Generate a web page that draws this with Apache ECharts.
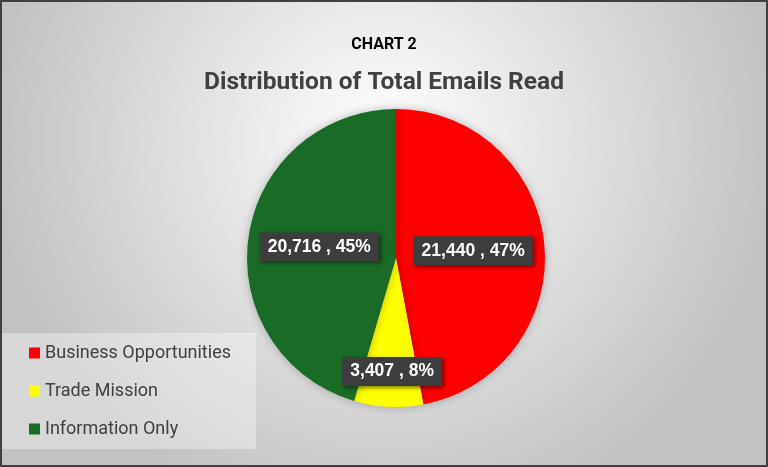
<!DOCTYPE html>
<html>
<head>
    <meta charset="utf-8">
    <title>Chart 2</title>
    <script src="https://cdn.jsdelivr.net/npm/echarts@6/dist/echarts.min.js"></script>
    <style>
        html,body{
            height: 100%;
            margin: 0;
            padding: 0;
        }
        #main{
            width: 768px;
            height: 467px;
            box-sizing: border-box;
            border: 2px solid #404040;
        }
    </style>
</head>
<body>
    <div id="main"></div>
    <script type="text/javascript">
    // data
    var categories = ['Business Opportunities', 'Trade Mission', 'Information Only'];
    var emailsRead = [21440, 3407, 20716];
    var sliceColors = ['#ff0000', '#ffff00', '#1a6b26'];

    var pieData = [];
    for (var i = 0; i < categories.length; i++) {
        pieData.push({
            name: categories[i],
            value: emailsRead[i],
            itemStyle: { color: sliceColors[i] }
        });
    }

    var myChart = echarts.init(document.getElementById('main'));

    var option = {
        backgroundColor: {
            type: 'radial', x: 0.5, y: 0.3, r: 0.85,
            colorStops: [
                { offset: 0, color: '#ffffff' },
                { offset: 1, color: '#c2c2c2' }
            ]
        },
        title: [
            {
                text: 'CHART 2',
                left: 'center',
                top: 30,
                textStyle: { fontFamily: 'Roboto', fontWeight: 'bold', fontSize: 16, color: '#000' }
            },
            {
                text: 'Distribution of Total Emails Read',
                left: 'center',
                top: 63,
                textStyle: { fontFamily: 'Roboto', fontWeight: 'bold', fontSize: 24.5, color: '#404040' }
            }
        ],
        legend: {
            orient: 'vertical',
            left: 0,
            top: 331,
            data: categories,
            icon: 'rect',
            itemWidth: 11,
            itemHeight: 11,
            itemGap: 20,
            padding: [11, 25, 11, 27],
            backgroundColor: 'rgba(255,255,255,0.35)',
            textStyle: { fontFamily: 'Roboto', fontSize: 18, color: '#404040' }
        },
        series: [
            {
                type: 'pie',
                center: [394, 256],
                radius: 149,
                startAngle: 90,
                clockwise: true,
                percentPrecision: 0,
                legendHoverLink: false,
                itemStyle: {
                    shadowColor: 'rgba(0,0,0,0.25)',
                    shadowBlur: 10
                },
                label: {
                    position: 'inside',
                    formatter: function (p) {
                        return p.value.toLocaleString('en-US') + ' , ' + p.percent + '%';
                    },
                    fontFamily: 'Liberation Sans',
                    fontWeight: 'bold',
                    fontSize: 17.5,
                    color: '#ffffff',
                    backgroundColor: '#3d3d3d',
                    padding: [6, 8, 5, 8],
                    shadowColor: 'rgba(0,0,0,0.5)',
                    shadowBlur: 4,
                    shadowOffsetX: 2,
                    shadowOffsetY: 2
                },
                labelLayout: function (params) {
                    if (params.dataIndex === 1) {
                        return { dy: 36 };
                    }
                    return {};
                },
                labelLine: { show: false },
                data: pieData
            }
        ]
    };

    myChart.setOption(option);
    </script>
</body>
</html>
